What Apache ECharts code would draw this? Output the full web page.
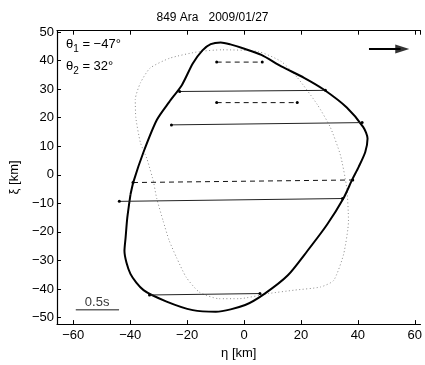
<!DOCTYPE html>
<html><head><meta charset="utf-8">
<script src="https://cdn.jsdelivr.net/npm/echarts@6/dist/echarts.min.js"></script>
<style>html,body{margin:0;padding:0;background:#fff}#c{width:425px;height:365px}</style>
</head><body><div id="c"></div>
<script>
const titleText = '849 Ara   2009/01/27';
const xTicks = [-60, -40, -20, 0, 20, 40, 60];
const yTicks = [-50, -40, -30, -20, -10, 0, 10, 20, 30, 40, 50];
const solidContour = [
  [-39.9,-7.0],[-38.8,-2.3],[-35.3,8.0],[-30.6,19.3],[-26.3,25.5],[-21.8,31.5],[-18.0,39.0],[-14.6,43.6],
  [-11.7,45.8],[-8.2,46.4],[-4.8,45.7],[0.4,44.1],[6.1,42.0],[13.1,38.0],[21.1,34.0],[28.0,29.9],[36.1,23.6],
  [41.9,16.7],[43.4,12.7],[42.6,8.0],[40.3,2.8],[38.0,-1.7],[35.0,-8.1],[29.2,-17.4],[22.3,-26.6],[15.4,-35.2],
  [7.3,-41.6],[0.4,-45.6],[-9.9,-48.0],[-18.0,-47.4],[-27.2,-44.4],[-35.3,-40.4],[-39.9,-34.7],[-42.0,-26.7],
  [-41.6,-22.0],[-41.0,-15.0],[-39.9,-7.0]
];
const dottedContour = [
  [-31.8,-2.3],[-34.1,5.6],[-36.4,11.3],[-38.0,20.0],[-38.2,26.4],[-36.4,32.2],[-33.0,37.4],[-26.0,40.9],
  [-15.7,43.2],[-7.7,43.8],[5.0,43.2],[13.1,39.7],[18.8,34.0],[25.7,24.7],[30.3,16.7],[33.9,6.8],[36.1,-4.7],
  [36.7,-16.2],[35.0,-27.8],[31.5,-37.0],[26.9,-39.3],[17.7,-40.4],[8.5,-41.6],[-1.8,-43.4],[-8.8,-43.4],
  [-15.7,-41.1],[-20.3,-35.9],[-23.7,-29.0],[-26.3,-23.0],[-28.4,-16.2],[-30.7,-8.1],[-31.8,-2.3]
];
const solidChords = [[-22.6,29.2,28.6,29.6],[-25.5,17.5,41.5,18.3],[-43.8,-9.3,34.6,-8.3],[-33.2,-42.1,5.6,-41.6]];
const dashedChords = [[-9.6,39.5,6.4,39.5],[-9.6,25.3,18.7,25.3],[-39.0,-2.7,38.2,-1.8]];
const arrowShaft = [[43.9,44.1],[55.0,44.1]];
const arrowHead = [[55.6,44.1]];
const scaleBar = [[-59.1,-47.3],[-43.9,-47.3]];
const scaleLabel = [[-51.6,-44.6,'0.5s']];

const FONT = 'Liberation Sans';
const minus = v => String(v).replace('-', '\u2212');

const chart = echarts.init(document.getElementById('c'), null, {renderer:'canvas'});
const series = [];
series.push({type:'line', data:dottedContour, showSymbol:false, smooth:0.2, lineStyle:{color:'#8a8a8a', width:1, type:[1,2.5]}, z:2, silent:true});
series.push({type:'line', data:solidContour, showSymbol:false, smooth:0.25, lineStyle:{color:'#000', width:2}, z:3, silent:true});
solidChords.forEach(c=>series.push({type:'line', data:[[c[0],c[1]],[c[2],c[3]]], symbol:'circle', symbolSize:3, itemStyle:{color:'#000'}, lineStyle:{color:'#222', width:1}, z:4, silent:true}));
dashedChords.forEach(c=>series.push({type:'line', data:[[c[0],c[1]],[c[2],c[3]]], symbol:'circle', symbolSize:3, itemStyle:{color:'#000'}, lineStyle:{color:'#111', width:1, type:[5,4]}, z:4, silent:true}));
series.push({type:'line', data:arrowShaft, showSymbol:false, lineStyle:{color:'#000', width:2}, z:5, silent:true});
series.push({type:'scatter', data:arrowHead, symbol:'path://M0,0 L14,4.5 L0,9 Z', symbolSize:[14,9], itemStyle:{color:'#000'}, z:5, silent:true});
series.push({type:'line', data:scaleBar, showSymbol:false, lineStyle:{color:'#666', width:1.5}, z:5, silent:true});
series.push({type:'scatter', data:scaleLabel, symbolSize:0, label:{show:true, position:'inside', formatter:p=>p.data[2], color:'#000', fontSize:13, fontFamily:FONT}, z:5, silent:true});

const axisCommon = {
  axisLine:{show:true, onZero:false, lineStyle:{color:'#000', width:1.2}},
  axisTick:{show:true, inside:true, length:4, lineStyle:{color:'#000'}},
  splitLine:{show:false},
};
chart.setOption({
  animation:false,
  title:{text:titleText, left:'center', top:7, textStyle:{fontSize:12, fontWeight:'normal', color:'#000', fontFamily:FONT}},
  grid:{left:55.3, right:0, top:30.7, bottom:37.2},
  xAxis:[
    Object.assign({type:'value', position:'bottom', min:-65.7, max:62.0, splitNumber:6,
      name:'\u03b7 [km]', nameLocation:'middle', nameGap:19, nameTextStyle:{fontSize:13, color:'#000', fontFamily:FONT},
      axisLabel:{color:'#000', fontSize:13, fontFamily:FONT, margin:5, showMinLabel:false, showMaxLabel:false,
        formatter:v=>xTicks.includes(v)?minus(v):''}}, axisCommon),
    Object.assign({type:'value', position:'top', min:-65.7, max:62.0, splitNumber:6, axisLabel:{show:false}}, axisCommon)
  ],
  yAxis:[
    Object.assign({type:'value', position:'left', min:-52.3, max:50.5, splitNumber:10,
      name:'\u03be [km]', nameLocation:'middle', nameGap:36, nameRotate:90, nameTextStyle:{fontSize:13, color:'#000', fontFamily:FONT},
      axisLabel:{color:'#000', fontSize:13, fontFamily:FONT, margin:3, showMinLabel:false, showMaxLabel:false,
        formatter:v=>yTicks.includes(v)?minus(v):''}}, axisCommon)
  ],
  graphic:[
    {type:'text', left:66, top:38, style:{rich:{a:{fontSize:13, fontFamily:FONT, fill:'#000'}, s:{fontSize:10, fontFamily:FONT, fill:'#000', padding:[9,0,0,0]}}, text:'{a|\u03b8}{s|1}{a| = \u221247\u00b0}'}},
    {type:'text', left:66, top:60, style:{rich:{a:{fontSize:13, fontFamily:FONT, fill:'#000'}, s:{fontSize:10, fontFamily:FONT, fill:'#000', padding:[9,0,0,0]}}, text:'{a|\u03b8}{s|2}{a| = 32\u00b0}'}}
  ],
  series:series
});
</script></body></html>
